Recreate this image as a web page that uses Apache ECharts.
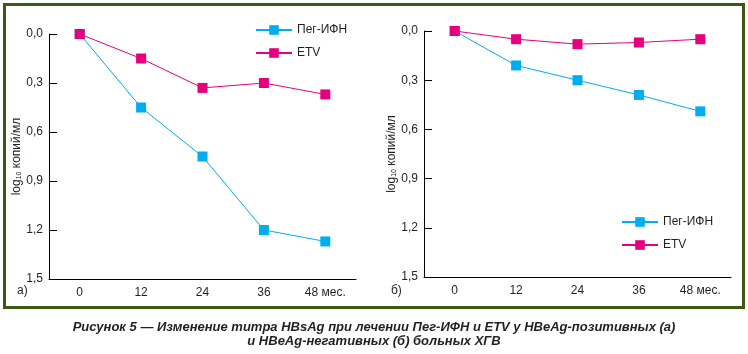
<!DOCTYPE html>
<html>
<head>
<meta charset="utf-8">
<script src="https://cdn.jsdelivr.net/npm/echarts@6/dist/echarts.min.js"></script>
<style>
    html, body {margin: 0; padding: 0; background: #fff;}
    #main {width: 748px; height: 354px;}
</style>
</head>
<body>
<div id="main"></div>
<script>
// данные
const months = ['0', '12', '24', '36', '48 мес.'];
const yTicks = ['0,0', '0,3', '0,6', '0,9', '1,2', '1,5'];
const pegA = [0, 0.45, 0.75, 1.2, 1.27];   // а) HBeAg-позитивные
const etvA = [0, 0.15, 0.33, 0.30, 0.37];
const pegB = [0, 0.21, 0.30, 0.39, 0.49];  // б) HBeAg-негативные
const etvB = [0, 0.05, 0.08, 0.07, 0.05];

const FONT = '"Liberation Sans Narrow", "Liberation Sans", Arial, sans-serif';
const CYAN = '#00aeef';
const MAGENTA = '#e6007e';
const TXT = '#231f20';

const chart = echarts.init(document.getElementById('main'));

function xAxis(gridIndex) {
    return {
        type: 'category',
        gridIndex: gridIndex,
        position: 'bottom',
        data: months,
        boundaryGap: true,
        axisLine: {onZero: false, lineStyle: {color: '#000', width: 1}},
        axisTick: {length: 7, lineStyle: {color: '#000'}},
        axisLabel: {color: TXT, fontSize: 12, fontFamily: FONT, margin: 8}
    };
}

function yAxis(gridIndex) {
    return {
        type: 'value',
        gridIndex: gridIndex,
        inverse: true,
        min: 0,
        max: 1.5,
        interval: 0.3,
        axisLine: {show: true, lineStyle: {color: '#000', width: 1}},
        axisTick: {show: true, inside: true, length: 8, lineStyle: {color: '#000'}},
        splitLine: {show: false},
        axisLabel: {
            color: TXT, fontSize: 12, fontFamily: FONT, margin: 6,
            formatter: function (v) { return yTicks[Math.round(v / 0.3)]; }
        },
        name: '{a|log}{s|10}{a| копий/мл}',
        nameLocation: 'middle',
        nameRotate: 90,
        nameGap: 26,
        nameTextStyle: {
            rich: {
                a: {fontSize: 12, fontFamily: FONT, color: TXT, verticalAlign: 'bottom', lineHeight: 14},
                s: {fontSize: 7, fontFamily: FONT, color: TXT, verticalAlign: 'bottom', lineHeight: 12}
            }
        }
    };
}

function line(name, data, color, idx) {
    return {
        name: name,
        type: 'line',
        xAxisIndex: idx,
        yAxisIndex: idx,
        data: data,
        symbol: 'rect',
        symbolSize: 10,
        color: color,
        lineStyle: {color: color, width: 1},
        itemStyle: {color: color},
        emphasis: {disabled: true}
    };
}

const legendBase = {
    orient: 'vertical',
    padding: 0,
    itemWidth: 36,
    itemHeight: 12,
    itemGap: 11,
    textStyle: {color: TXT, fontSize: 12, fontFamily: FONT},
    data: ['Пег-ИФН', 'ETV']
};

chart.setOption({
    animation: false,
    grid: [
        {left: 49, top: 34, width: 307, height: 245},
        {left: 424, top: 31, width: 307, height: 246}
    ],
    xAxis: [xAxis(0), xAxis(1)],
    yAxis: [yAxis(0), yAxis(1)],
    legend: [
        Object.assign({}, legendBase, {left: 255, top: 24}),
        Object.assign({}, legendBase, {left: 621, top: 216})
    ],
    series: [
        line('Пег-ИФН', pegA, CYAN, 0),
        line('ETV', etvA, MAGENTA, 0),
        line('Пег-ИФН', pegB, CYAN, 1),
        line('ETV', etvB, MAGENTA, 1)
    ],
    graphic: [
        {
            type: 'rect', silent: true,
            shape: {x: 4.5, y: 4.5, width: 739, height: 303},
            style: {fill: 'none', stroke: '#3a5a14', lineWidth: 3}
        },
        {
            type: 'text', left: 17, top: 285,
            style: {text: 'а)', fill: TXT, font: '12px ' + FONT}
        },
        {
            type: 'text', left: 391, top: 285,
            style: {text: 'б)', fill: TXT, font: '12px ' + FONT}
        },
        {
            type: 'text', x: 374, y: 320,
            style: {
                text: 'Рисунок 5 — Изменение титра HBsAg при лечении Пег-ИФН и ETV у HBeAg-позитивных (а)\nи HBeAg-негативных (б) больных ХГВ',
                fill: '#231f20',
                font: 'italic bold 13px ' + FONT,
                align: 'center',
                verticalAlign: 'top',
                lineHeight: 14
            }
        }
    ]
});
</script>
</body>
</html>
